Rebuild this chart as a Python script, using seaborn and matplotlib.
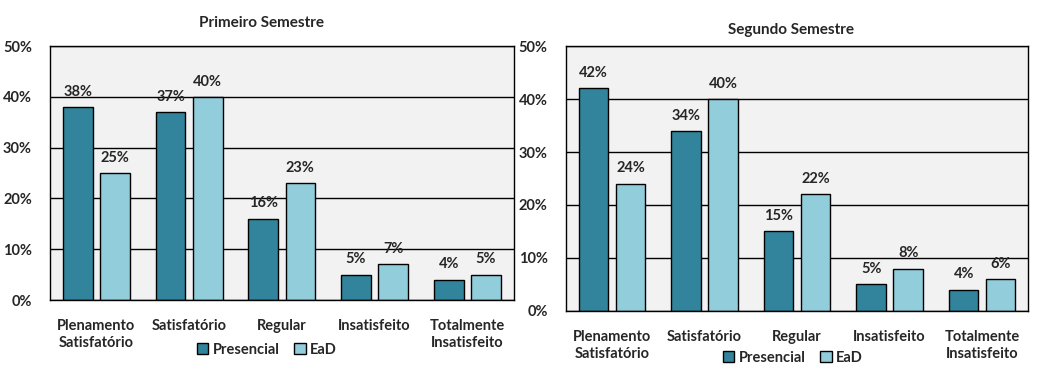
import pandas as pd
import seaborn as sns
import matplotlib.pyplot as plt
from matplotlib.ticker import PercentFormatter

#%% data
categorias = ['Plenamento\nSatisfatório', 'Satisfatório', 'Regular',
              'Insatisfeito', 'Totalmente\nInsatisfeito']
modalidades = ['Presencial', 'EaD']

primeiro_presencial = [0.38, 0.37, 0.16, 0.05, 0.04]
primeiro_ead = [0.25, 0.40, 0.23, 0.07, 0.05]
segundo_presencial = [0.42, 0.34, 0.15, 0.05, 0.04]
segundo_ead = [0.24, 0.40, 0.22, 0.08, 0.06]

titulos = ['Primeiro Semestre', 'Segundo Semestre']
cores = ['#31849B', '#92CDDC']

#%% style
sns.set_style('white')
plt.rcParams['font.family'] = ['Lato', 'DejaVu Sans']
plt.rcParams['font.weight'] = 'bold'


def monta_df(pres, ead):
    return pd.DataFrame({
        'Categoria': categorias * 2,
        'Modalidade': ['Presencial'] * 5 + ['EaD'] * 5,
        'Valor': pres + ead,
    })


fig = plt.figure(figsize=(10.42, 3.75), dpi=100)
ax1 = fig.add_axes([0.048, 0.2, 0.445, 0.677])
ax2 = fig.add_axes([0.543, 0.171, 0.444, 0.706])

dados = [monta_df(primeiro_presencial, primeiro_ead),
         monta_df(segundo_presencial, segundo_ead)]
# legend anchor in figure coords (x, y)
leg_pos = [(0.256, 0.068), (0.761, 0.046)]
title_pad = [14, 9]
title_x = [0.457, 0.487]

for ax, df, titulo, lp, tp, tx in zip([ax1, ax2], dados, titulos, leg_pos,
                                      title_pad, title_x):
    sns.barplot(data=df, x='Categoria', y='Valor', hue='Modalidade',
                hue_order=modalidades, palette=cores, width=0.8, gap=0.2,
                edgecolor='black', linewidth=1, saturation=1, ax=ax)
    ax.set_facecolor('#F2F2F2')
    ax.set_ylim(0, 0.5)
    ax.set_yticks([0, 0.1, 0.2, 0.3, 0.4, 0.5])
    ax.yaxis.set_major_formatter(PercentFormatter(1.0, decimals=0))
    ax.grid(axis='y', color='black', linewidth=1)
    ax.set_axisbelow(True)
    for s in ax.spines.values():
        s.set_color('black')
        s.set_linewidth(1)
    ax.set_xlabel('')
    ax.set_ylabel('')
    ax.tick_params(axis='both', labelsize=10.5, length=0)
    ax.tick_params(axis='x', pad=14)
    ax.tick_params(axis='y', pad=13)
    for lab in ax.get_xticklabels() + ax.get_yticklabels():
        lab.set_fontweight('bold')
    ax.set_title(titulo, fontsize=11, fontweight='bold', pad=tp, x=tx)
    for cont in ax.containers:
        ax.bar_label(cont, labels=[f'{v * 100:.0f}%' for v in cont.datavalues],
                     padding=6, fontsize=10.5, fontweight='bold')
    ax.legend(loc='center', bbox_to_anchor=lp, bbox_transform=fig.transFigure,
              ncol=2, frameon=False, handlelength=0.8, handleheight=0.8,
              handletextpad=0.3, columnspacing=1.0,
              prop={'weight': 'bold', 'size': 10.5})

fig.savefig('out.png', dpi=100)
